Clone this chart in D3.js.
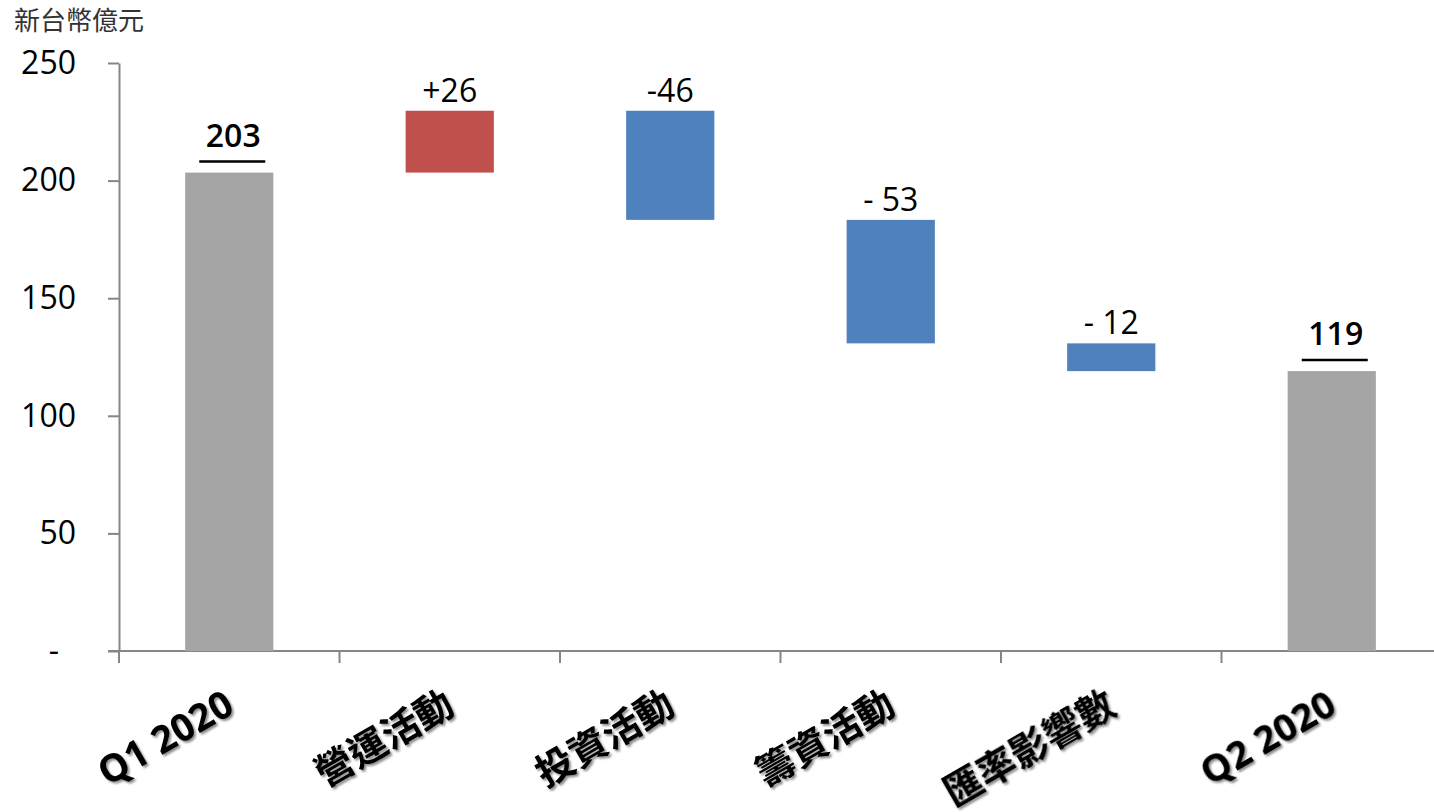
<!DOCTYPE html>
<html>
<head>
    <meta charset="utf-8">
    <title>現金流量瀑布圖</title>
    <script src="https://d3js.org/d3.v7.min.js"></script>
    <style>
        body { margin: 0; background: #fff; }
        svg { display: block; font-family: "Open Sans", "Noto Sans CJK TC", sans-serif; }
        .axis path, .axis line { stroke: #868686; stroke-width: 2px; }
        .axis text { font-size: 32px; fill: #000; font-family: "Open Sans", sans-serif; }
        .val { font-size: 32px; fill: #000; text-anchor: middle; font-family: "Open Sans", sans-serif; }
        .cat { font-size: 38px; font-weight: bold; fill: #000; text-anchor: end;
               font-family: "Open Sans", "Noto Sans CJK TC", sans-serif; }
    </style>
</head>
<body>
<div id="chart"></div>
<script>
    // data (新台幣億元)
    const categories = ["Q1 2020", "營運活動", "投資活動", "籌資活動", "匯率影響數", "Q2 2020"];
    const kinds = ["total", "delta", "delta", "delta", "delta", "total"];
    const values = [203.4, 26.3, -46.4, -52.5, -11.8, 119.0];
    const valueLabels = ["203", "+26", "-46", "- 53", "- 12", "119"];
    const yTicks = [0, 50, 100, 150, 200, 250];

    const W = 1434, H = 812;
    const plotLeft = 119, plotTop = 63, plotBottom = 651, plotRight = 1442;

    // build start / end of each bar
    let run = 0;
    const bars = categories.map((c, i) => {
        let y0, y1;
        if (kinds[i] === "total") { y0 = 0; y1 = values[i]; run = values[i]; }
        else { y0 = run; y1 = run + values[i]; run = y1; }
        return { cat: c, kind: kinds[i], v: values[i], y0, y1, label: valueLabels[i] };
    });

    const svg = d3.select("#chart").append("svg")
        .attr("width", W).attr("height", H);

    const defs = svg.append("defs");
    defs.append("filter").attr("id", "shadow")
        .attr("x", "-10%").attr("y", "-10%").attr("width", "130%").attr("height", "130%")
        .append("feDropShadow")
        .attr("dx", 2).attr("dy", 2).attr("stdDeviation", 1.3)
        .attr("flood-color", "#000").attr("flood-opacity", 0.45);

    const x = d3.scaleBand()
        .domain(categories)
        .range([plotLeft, plotRight])
        .paddingInner(0.6)
        .paddingOuter(0.3);

    const y = d3.scaleLinear()
        .domain([0, 250])
        .range([plotBottom, plotTop]);

    const color = d => d.kind === "total" ? "#A5A5A5" : (d.v >= 0 ? "#C0504D" : "#4F81BD");
    const mid = c => x(c) + x.bandwidth() / 2;

    // y axis
    const yAxis = svg.append("g")
        .attr("class", "axis")
        .attr("transform", `translate(${plotLeft},0)`)
        .call(d3.axisLeft(y).tickValues(yTicks).tickSize(11).tickSizeOuter(0).tickPadding(32)
            .tickFormat(d => d === 0 ? "-" : d));
    yAxis.selectAll("text").filter(d => d === 0).attr("dx", "-17");

    // x axis line with ticks at band boundaries
    const xg = svg.append("g").attr("class", "axis");
    xg.append("line")
        .attr("x1", plotLeft - 11).attr("x2", W)
        .attr("y1", plotBottom).attr("y2", plotBottom);
    xg.selectAll(".xt").data(categories).enter().append("line")
        .attr("class", "xt")
        .attr("x1", c => mid(c) - x.step() / 2)
        .attr("x2", c => mid(c) - x.step() / 2)
        .attr("y1", plotBottom).attr("y2", plotBottom + 12);

    // bars
    svg.selectAll(".bar").data(bars).enter().append("rect")
        .attr("class", "bar")
        .attr("x", d => x(d.cat))
        .attr("width", x.bandwidth())
        .attr("y", d => y(Math.max(d.y0, d.y1)))
        .attr("height", d => Math.abs(y(d.y0) - y(d.y1)))
        .attr("fill", color);

    // value labels
    const deltas = bars.filter(d => d.kind === "delta");
    svg.selectAll(".dl").data(deltas).enter().append("text")
        .attr("class", "val")
        .attr("x", d => mid(d.cat))
        .attr("y", d => y(Math.max(d.y0, d.y1)) - 9)
        .text(d => d.label);

    const totals = bars.filter(d => d.kind === "total");
    svg.selectAll(".tl").data(totals).enter().append("text")
        .attr("class", "val")
        .style("font-weight", 600)
        .attr("x", d => mid(d.cat) + 4)
        .attr("y", d => y(d.y1) - 26)
        .text(d => d.label);
    svg.selectAll(".ul").data(totals).enter().append("line")
        .attr("x1", d => mid(d.cat) - 30)
        .attr("x2", d => mid(d.cat) + 36)
        .attr("y1", d => y(d.y1) - 11)
        .attr("y2", d => y(d.y1) - 11)
        .attr("stroke", "#000").attr("stroke-width", 2.5);

    // category labels, rotated, with shadow
    const catG = svg.append("g").attr("filter", "url(#shadow)");
    catG.selectAll(".cat").data(categories).enter().append("text")
        .attr("class", "cat")
        .attr("transform", c => `translate(${mid(c) + 7},712) rotate(-30)`)
        .text(c => c);

    // unit title
    svg.append("text")
        .attr("x", 14).attr("y", 30)
        .style("font-size", "26px")
        .style("font-family", "'Noto Sans CJK TC', sans-serif")
        .attr("fill", "#333")
        .text("新台幣億元");
</script>
</body>
</html>
